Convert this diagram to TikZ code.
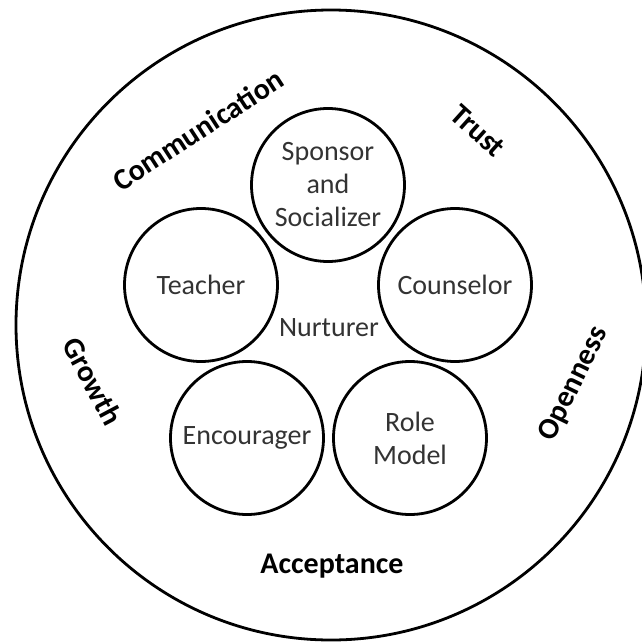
\documentclass[tikz,border=0pt]{standalone}
\usepackage{fontspec}
\setmainfont{Carlito}
\tikzset{role/.style={circle,draw,line width=2.8pt,minimum size=153pt,inner sep=0pt,
   align=center,text=black!80,font=\fontsize{28}{33}\selectfont},
 value/.style={font=\bfseries\fontsize{30}{36}\selectfont},
 }

\begin{document}
\begin{tikzpicture}[x=1pt,y=-1pt]
        \useasboundingbox (0,0) rectangle (641,643);
        % outer ring
        \node[draw,circle,line width=2.8pt,minimum size=630pt] (ring) at (331,325) {};
        % the five roles
        \node[role] (sponsor) at (328,185) {Sponsor\\and\\Socializer};
        \node[role] (teacher) at (201,285) {Teacher};
        \node[role] (counselor) at (455,285) {Counselor};
        \node[role] (encourager) at (247,438) {Encourager};
        \node[role] (rolemodel) at (410,438) {Role\\Model};
        \node[text=black!80,font=\fontsize{28}{33}\selectfont] (nurturer) at (329,328) {Nurturer};
        % values round the ring
        \node[value, rotate=33] (comm) at (198,130) {Communication};
        \node[value, rotate=-42] (trust) at (478,131) {Trust};
        \node[value, rotate=64] (open) at (574,384) {Openness};
        \node[value, rotate=-62] (growth) at (93,381) {Growth};
        \node[value] (accept) at (332,566) {Acceptance};
    \end{tikzpicture}
\end{document}
